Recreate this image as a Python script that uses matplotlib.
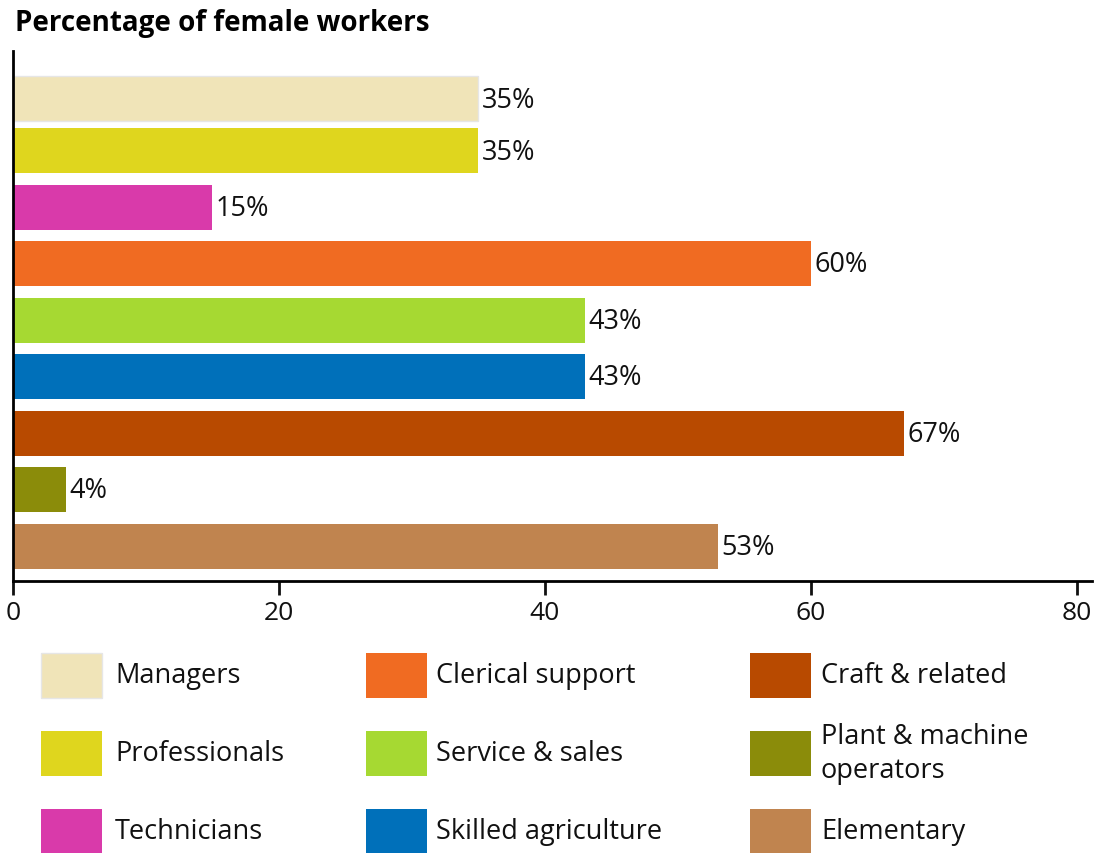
# Percentage of female workers by occupation group
import matplotlib.pyplot as plt
from matplotlib.patches import Rectangle

plt.rcParams['font.family'] = ['Open Sans', 'DejaVu Sans']

occupations = ['Managers', 'Professionals', 'Technicians', 'Clerical support',
               'Service & sales', 'Skilled agriculture', 'Craft & related',
               'Plant & machine\noperators', 'Elementary']
female_pct = [35, 35, 15, 60, 43, 43, 67, 4, 53]
colors = ['#F0E4B8', '#DFD61E', '#D93AAA', '#F06B22', '#A6D932',
          '#0070BA', '#B84A00', '#8B8C0A', '#C0844F']
ticks = [0, 20, 40, 60, 80]

# bar centres in pixel rows (top of axes = 52, bottom = 582)
bar_pos = [99.5, 151.5, 208, 264.5, 321, 377.5, 434, 490, 547]
bar_h = 45

W, H = 1100, 854
fig = plt.figure(figsize=(W / 100, H / 100), dpi=100)
ax = fig.add_axes([13 / W, 1 - 582 / H, (1092 - 13) / W, (582 - 52) / H])

bars = ax.barh(bar_pos, female_pct, height=bar_h, color=colors,
               edgecolor='none', zorder=2)
bars[0].set_edgecolor('#E6E6E6')
bars[0].set_linewidth(1)

for b, v in zip(bars, female_pct):
    ax.text(b.get_width() + 0.25, b.get_y() + b.get_height() / 2 + 1, f'{v}%',
            va='center', ha='left', fontsize=19.5, color='#111111')

ax.set_xlim(0, (1092 - 13) / ((1077 - 13) / 80))
ax.set_ylim(582, 52)
ax.set_xticks(ticks)
ax.set_xticklabels([str(t) for t in ticks], fontsize=19)
ax.set_yticks([])
ax.tick_params(axis='x', length=10, width=2, pad=4, colors='#111111')
for side in ['top', 'right']:
    ax.spines[side].set_visible(False)
ax.spines['left'].set_linewidth(2)
ax.spines['bottom'].set_linewidth(2)
ax.spines['left'].set_bounds(582, 52)

fig.text(15 / W, 1 - 23 / H, 'Percentage of female workers', fontsize=20,
         fontweight='bold', va='center', ha='left')

# legend drawn in pixel coordinates below the chart
lg = fig.add_axes([0, 0, 1, 1 - 640 / H])
lg.set_xlim(0, W)
lg.set_ylim(H, 640)
lg.axis('off')
col_x = [41, 366, 750]
text_x = [115, 436, 821]
row_y = [676, 754, 832]
for i, (name, c) in enumerate(zip(occupations, colors)):
    col, row = divmod(i, 3)
    lg.add_patch(Rectangle((col_x[col], row_y[row] - 22.5), 61, 45,
                           facecolor=c,
                           edgecolor='#E6E6E6' if i == 0 else 'none'))
    lg.text(text_x[col], row_y[row], name, fontsize=19.5, va='center',
            ha='left', linespacing=1.3, color='#111111')

fig.savefig('out.png', dpi=100)
